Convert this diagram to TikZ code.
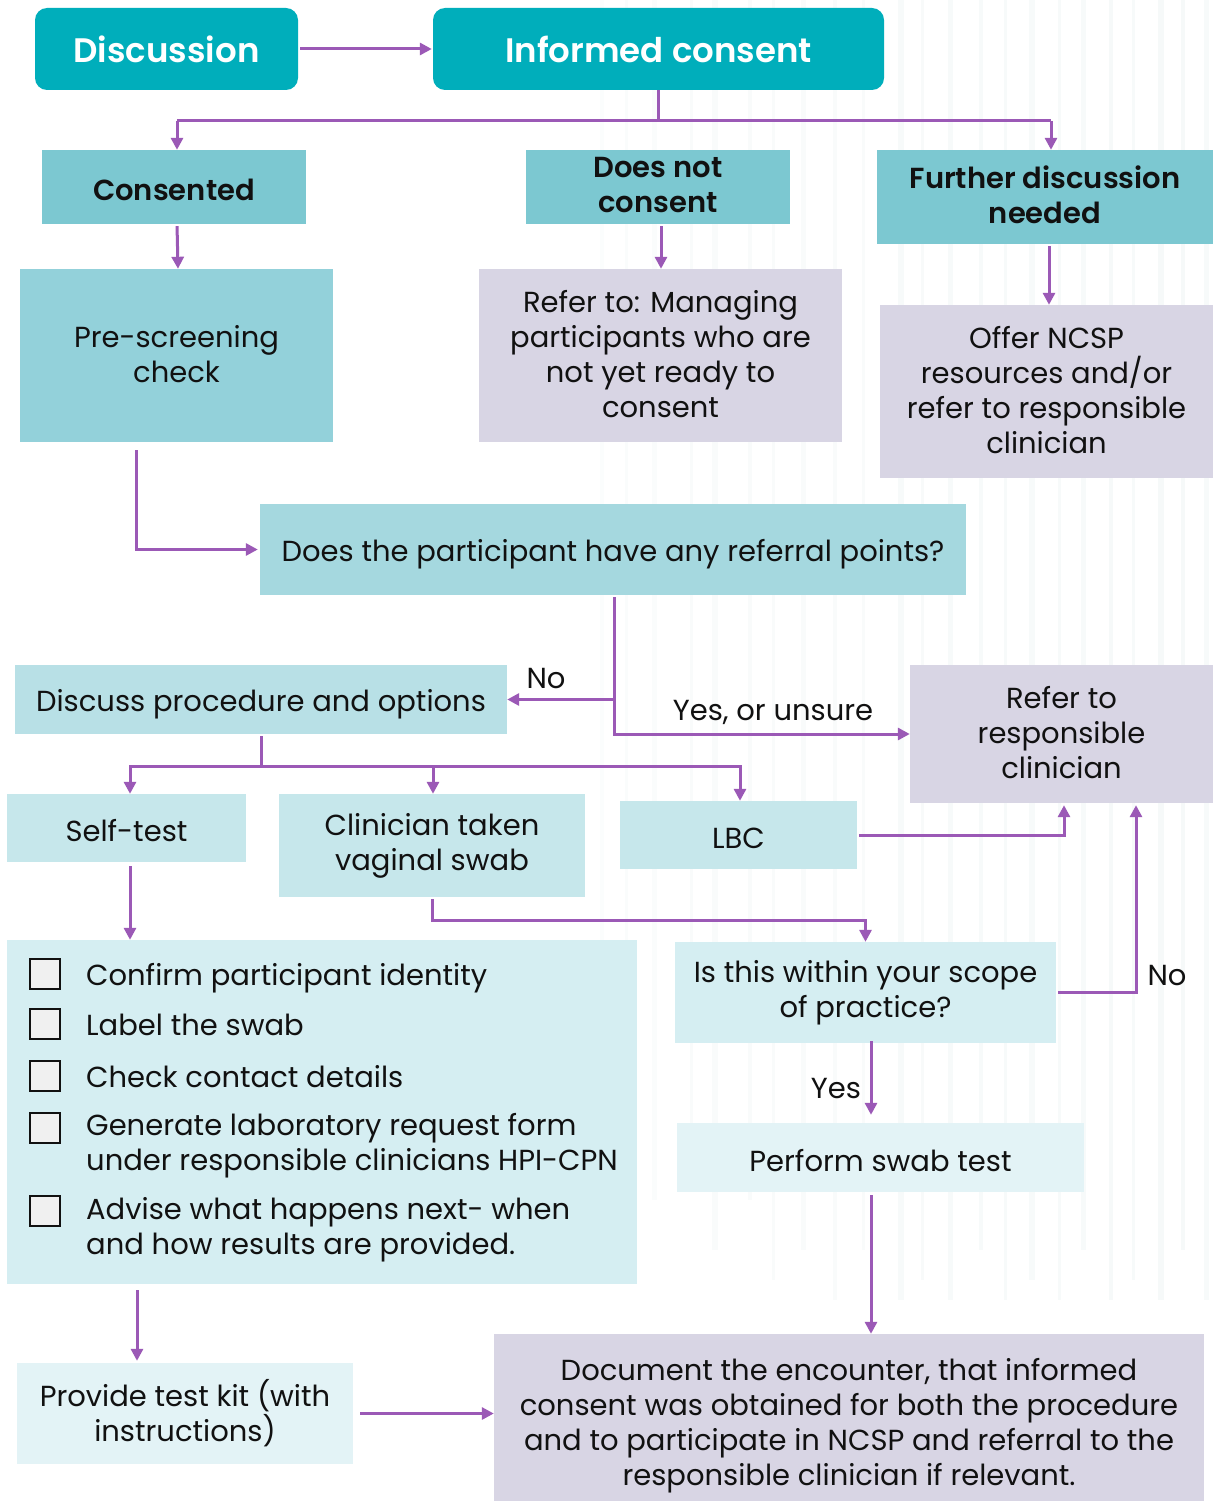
\documentclass[tikz,border=0pt]{standalone}
\usepackage{fontspec}
\setmainfont{Poppins}[BoldFont={Poppins SemiBold}]
\usetikzlibrary{arrows.meta,positioning,calc}
\definecolor{teal1}{RGB}{0,174,187}
\definecolor{hdr}{RGB}{124,200,209}
\definecolor{c2}{RGB}{147,209,218}
\definecolor{c3}{RGB}{165,216,223}
\definecolor{c4}{RGB}{184,224,230}
\definecolor{c5}{RGB}{198,231,235}
\definecolor{c6}{RGB}{213,238,242}
\definecolor{c7}{RGB}{227,243,246}
\definecolor{lav}{RGB}{216,213,228}
\definecolor{purp}{RGB}{155,89,182}
\definecolor{ink}{RGB}{17,17,17}
\definecolor{streak}{RGB}{120,170,175}
\newcommand\mystrut{\rule[-7pt]{0pt}{35pt}}
\newcommand\boxstrut{\rule[-4pt]{0pt}{35pt}}
\tikzset{
  box/.style={rectangle, inner sep=0pt, align=center, text=ink, font=\fontsize{29}{35}\selectfont,
    execute at begin node=\boxstrut, execute at end node=\boxstrut},
  title/.style={box, rounded corners=12pt, fill=teal1, text=white, font=\fontsize{34}{40}\selectfont\bfseries},
  head/.style={box, fill=hdr, font=\fontsize{29}{35}\selectfont\bfseries},
  arr/.style={draw=purp, line width=3pt, -{Triangle[length=12pt,width=12pt]}},
  lin/.style={draw=purp, line width=3pt},
  lbl/.style={text=ink, font=\fontsize{29}{35}\selectfont, inner sep=0pt,
    execute at begin node=\mystrut},
  cbox/.style={rectangle, draw=ink, line width=2pt, fill={rgb,255:red,240;green,240;blue,240}, minimum width=30pt, minimum height=30pt, inner sep=0pt},
  itm/.style={anchor=west, align=left, text=ink, font=\fontsize{29}{35}\selectfont, inner sep=0pt,
    execute at begin node=\mystrut, execute at end node=\mystrut}
}
\begin{document}
\begin{tikzpicture}[x=1pt,y=-1pt]
\useasboundingbox (0,0) rectangle (1213,1501);
\fill[white] (0,0) rectangle (1213,1501);
% faint background texture on the right
\foreach \xx/\op/\w/\len in {600/0.025/4/1000,625/0.03/3/1100,652/0.035/5/1200,690/0.04/3/1150,712/0.04/6/1250,748/0.04/4/1200,772/0.045/3/1280,801/0.045/5/1250,833/0.045/4/1300,862/0.04/3/1250,898/0.055/6/1300,921/0.05/3/1280,948/0.055/5/1300,979/0.06/4/1250,1004/0.055/3/1300,1029/0.06/6/1280,1058/0.06/3/1300,1081/0.06/5/1250,1109/0.065/4/1300,1132/0.06/3/1280,1158/0.065/6/1300,1181/0.065/4/1250,1204/0.06/5/1300}{
  \fill[streak, opacity=\op] (\xx,0) rectangle (\xx+\w,\len);
}
% nodes
\node[title, minimum width=263pt, minimum height=82pt] (disc) at (166.5,49) {Discussion};
\node[title, minimum width=451pt, minimum height=82pt] (inf) at (658.5,49) {Informed consent};
\node[head, minimum width=264pt, minimum height=74pt] (cons) at (174,187) {Consented};
\node[head, minimum width=264pt, minimum height=74pt] (dnc) at (658,187) {Does not\\consent};
\node[head, minimum width=336pt, minimum height=94pt] (fdn) at (1045,197) {Further discussion\\needed};
\node[box, fill=c2, minimum width=313pt, minimum height=173pt] (pre) at (176.5,355.5) {Pre-screening\\check};
\node[box, fill=lav, minimum width=363pt, minimum height=173pt] (mng) at (660.5,355.5) {Refer to: Managing\\participants who are\\not yet ready to\\consent};
\node[box, fill=lav, minimum width=333pt, minimum height=173pt] (offer) at (1046.5,391.5) {Offer NCSP\\resources and/or\\refer to responsible\\clinician};
\node[box, fill=c3, minimum width=706pt, minimum height=91pt] (q1) at (613,549.5) {Does the participant have any referral points?};
\node[box, fill=c4, minimum width=492pt, minimum height=69pt] (disc2) at (261,699.5) {Discuss procedure and options};
\node[box, fill=lav, minimum width=303pt, minimum height=138pt] (refer) at (1061.5,734) {Refer to\\responsible\\clinician};
\node[box, fill=c5, minimum width=239pt, minimum height=68pt] (self) at (126.5,828) {Self-test};
\node[box, fill=c5, minimum width=306pt, minimum height=103pt] (ctvs) at (432,845.5) {Clinician taken\\vaginal swab};
\node[box, fill=c5, minimum width=237pt, minimum height=68pt] (lbc) at (738.5,835) {LBC};
\node[box, fill=c6, minimum width=381pt, minimum height=101pt] (scope) at (865.5,992.5) {Is this within your scope\\of practice?};
\node[box, fill=c7, minimum width=407pt, minimum height=69pt] (perf) at (880.5,1157.5) {Perform swab test};
\node[box, fill=c6, minimum width=630pt, minimum height=344pt] (check) at (322,1112) {};
\node[box, fill=c7, minimum width=336pt, minimum height=101pt] (kit) at (185,1413.5) {Provide test kit (with\\instructions)};
\node[box, fill=lav, minimum width=710pt, minimum height=183pt] (doc) at (849,1425.5) {Document the encounter, that informed\\consent was obtained for both the procedure\\and to participate in NCSP and referral to the\\responsible clinician if relevant.};
% checklist
\node[cbox] (cb1) at (45,974) {};
\node[cbox] (cb2) at (45,1023.5) {};
\node[cbox] (cb3) at (45,1075.5) {};
\node[cbox] (cb4) at (45,1127.5) {};
\node[cbox] (cb5) at (45,1210.5) {};
\node[itm] (t1) at (86,975) {Confirm participant identity};
\node[itm] (t2) at (86,1025) {Label the swab};
\node[itm] (t3) at (86,1077) {Check contact details};
\node[itm] (t4) at (86,1146) {Generate laboratory request form\\under responsible clinicians HPI-CPN};
\node[itm] (t5) at (86,1230) {Advise what happens next- when\\and how results are provided.};
% junctions
\coordinate (jl) at (177,121);
\coordinate (jr) at (1051,121);
\coordinate (bus) at (261,766);
% connectors
\draw[arr, shorten <=2pt, shorten >=1pt] (disc.east) -- (inf.west);
\draw[lin] (inf.south) |- (jl);
\draw[lin] (inf.south |- jl) -- (jr);
\draw[arr] (jl) -- (jl |- cons.north);
\draw[arr] (jr) -- (jr |- fdn.north);
\draw[arr, shorten <=2pt] ([xshift=3pt]cons.south) -- ([xshift=4pt]cons.south |- pre.north);
\draw[arr, shorten <=2pt] ([xshift=3pt]dnc.south) -- ([xshift=3pt]dnc.south |- mng.north);
\draw[arr, shorten <=2pt] ([xshift=4pt]fdn.south) -- ([xshift=4pt]fdn.south |- offer.north);
\draw[arr, shorten <=8pt, shorten >=2pt] ([xshift=-40.5pt]pre.south) |- (q1.west);
\draw[arr, shorten <=2pt] ([xshift=1pt]q1.south) |- (disc2.east);
\draw[arr, shorten <=2pt] ([xshift=1pt]q1.south) |- (refer.west);
\node[lbl] (lno1) at (546,678) {No};
\node[lbl] (lyes1) at (773,710) {Yes, or unsure};
\draw[lin, shorten <=2pt] (disc2.south) -- (bus);
\draw[arr] (bus) -| ([xshift=3.5pt]self.north);
\draw[arr] (bus) -| ([xshift=1pt]ctvs.north);
\draw[arr] (bus) -| ([xshift=1.5pt]lbc.north);
\draw[arr, shorten <=2pt, shorten >=2pt] (lbc.east) -| ([xshift=2.5pt]refer.south);
\draw[arr, shorten <=2pt] (ctvs.south) -- ++(0,23) -| (scope.north);
\draw[arr, shorten <=2pt, shorten >=2pt] (scope.east) -| ([xshift=74.5pt]refer.south);
\node[lbl] (lno2) at (1167,975) {No};
\draw[arr, shorten <=-2pt, shorten >=8pt] ([xshift=5.5pt]scope.south) -- ([xshift=5.5pt]scope.south |- perf.north);
\node[lbl] (lyes2) at (836,1088) {Yes};
\draw[arr, shorten <=3pt] ([xshift=-9.5pt]perf.south) -- ([xshift=-9.5pt]perf.south |- doc.north);
\draw[arr, shorten <=4pt] ([xshift=3.5pt]self.south) -- ([xshift=3.5pt]self.south |- check.north);
\draw[arr, shorten <=6pt, shorten >=2pt] ([xshift=-48pt]kit.north |- check.south) -- ([xshift=-48pt]kit.north);
\draw[arr, shorten <=7pt] (kit.east) -- (kit.east -| doc.west);
\end{tikzpicture}
\end{document}
